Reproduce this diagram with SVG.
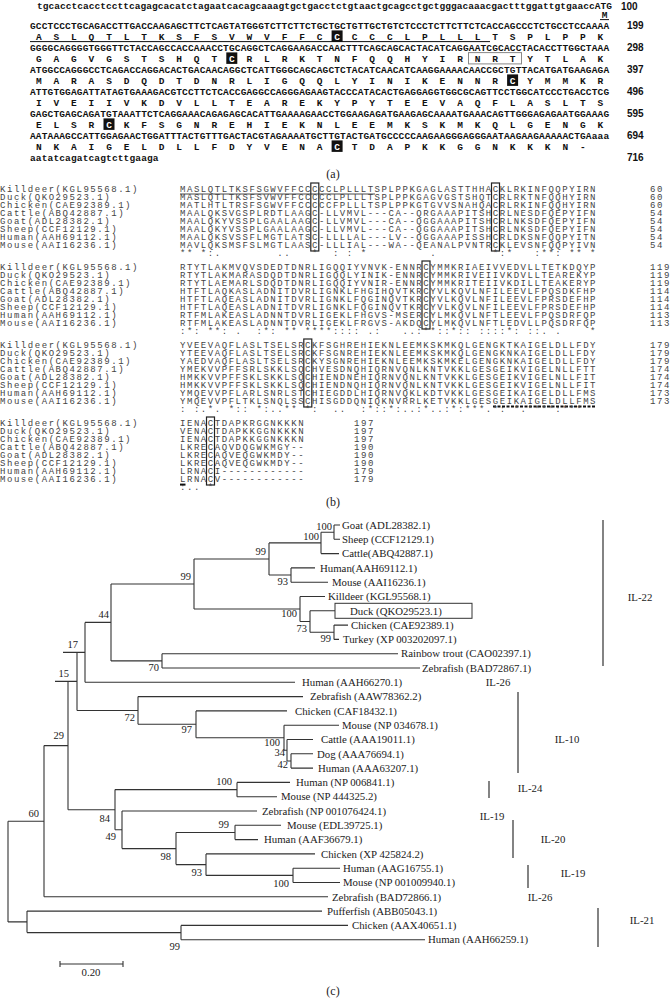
<svg xmlns="http://www.w3.org/2000/svg" width="670" height="998" viewBox="0 0 670 998">
<style>
.nt{font-family:"Liberation Mono",monospace;font-weight:bold;font-size:9.5px;letter-spacing:0.15px;fill:#111}
.aa{font-family:"Liberation Mono",monospace;font-weight:bold;font-size:9.5px;fill:#111;text-anchor:middle}
.w{fill:#fff}
.blk{fill:#111}
.num{font-family:"Liberation Sans",Arial,sans-serif;font-weight:bold;font-size:10px;fill:#111}
.al{font-family:"Liberation Mono",monospace;font-size:9px;letter-spacing:1.55px;fill:#444}
.box{fill:none;stroke:#222;stroke-width:1.2}
.lab{font-family:"Liberation Serif","Times New Roman",serif;font-size:10.8px;fill:#222}
.bs{font-family:"Liberation Serif","Times New Roman",serif;font-size:10.5px;fill:#222;text-anchor:end}
.grp{font-family:"Liberation Serif","Times New Roman",serif;font-size:10.8px;fill:#222;text-anchor:middle}
.cap{font-family:"Liberation Serif","Times New Roman",serif;font-size:12px;fill:#222;text-anchor:middle}
.edge{fill:none;stroke:#333;stroke-width:1.1}
.bar{fill:none;stroke:#333;stroke-width:1.2}
</style>

<!-- (a) nucleotide / amino-acid sequence -->
<g id="panel-a">
<rect class="blk" x="331.6" y="30.4" width="11" height="11.5"/>
<rect class="blk" x="226.3" y="52.4" width="11" height="11.5"/>
<rect class="blk" x="507.1" y="74.4" width="11" height="11.5"/>
<rect class="blk" x="103.5" y="118.4" width="11" height="11.5"/>
<rect class="blk" x="331.6" y="140.4" width="11" height="11.5"/>
<rect x="468.5" y="52.6" width="53" height="11.3" fill="none" stroke="#888" stroke-width="1"/>
<line x1="30" y1="41.6" x2="490" y2="41.6" stroke="#111" stroke-width="1"/>
<line x1="600" y1="19.6" x2="609" y2="19.6" stroke="#111" stroke-width="1"/>
<text class="nt" x="37" y="8.5" textLength="575" lengthAdjust="spacing">tgcacctcacctccttcagagcacatctagaatcacagcaaagtgctgacctctgtaactgcagcctgctgggacaaacgactttggattgtgaaccATG</text>
<text class="aa" x="604.5" y="18">M</text>
<text class="nt" x="30" y="28.5">GCCTCCCTGCAGACCTTGACCAAGAGCTTCTCAGTATGGGTCTTCTTCTGCTGCTGTTGCTGTCTCCCTCTTCTTCTCACCAGCCCTCTGCCTCCAAAA</text>
<text class="aa" y="39.5" x="38.8 56.3 73.9 91.4 109 126.5 144.1 161.6 179.2 196.7 214.3 231.8 249.4 266.9 284.5 302 319.6 337.1 354.7 372.2 389.8 407.3 424.9 442.4 460 477.5 495.1 512.6 530.2 547.7 565.3 582.8 600.4">ASLQTLTKSFSVWVFFC<tspan class="w">C</tspan>CCCLPLLLTSPLPPK</text>
<text class="nt" x="30" y="50.5">GGGGCAGGGGTGGGTTCTACCAGCCACCAAACCTGCAGGCTCAGGAAGACCAACTTTCAGCAGCACTACATCAGGAATCGCACCTACACCTTGGCTAAA</text>
<text class="aa" y="61.5" x="38.8 56.3 73.9 91.4 109 126.5 144.1 161.6 179.2 196.7 214.3 231.8 249.4 266.9 284.5 302 319.6 337.1 354.7 372.2 389.8 407.3 424.9 442.4 460 477.5 495.1 512.6 530.2 547.7 565.3 582.8 600.4">GAGVGSTSHQT<tspan class="w">C</tspan>RLRKTNFQQHYIRNRTYTLAK</text>
<text class="nt" x="30" y="72.5">ATGGCCAGGGCCTCAGACCAGGACACTGACAACAGGCTCATTGGGCAGCAGCTCTACATCAACATCAAGGAAAACAACCGCTGTTACATGATGAAGAGA</text>
<text class="aa" y="83.5" x="38.8 56.3 73.9 91.4 109 126.5 144.1 161.6 179.2 196.7 214.3 231.8 249.4 266.9 284.5 302 319.6 337.1 354.7 372.2 389.8 407.3 424.9 442.4 460 477.5 495.1 512.6 530.2 547.7 565.3 582.8 600.4">MARASDQDTDNRLIGQQLYINIKENNR<tspan class="w">C</tspan>YMMKR</text>
<text class="nt" x="30" y="94.5">ATTGTGGAGATTATAGTGAAAGACGTCCTTCTCACCGAGGCCAGGGAGAAGTACCCATACACTGAGGAGGTGGCGCAGTTCCTGGCATCCCTGACCTCG</text>
<text class="aa" y="105.5" x="38.8 56.3 73.9 91.4 109 126.5 144.1 161.6 179.2 196.7 214.3 231.8 249.4 266.9 284.5 302 319.6 337.1 354.7 372.2 389.8 407.3 424.9 442.4 460 477.5 495.1 512.6 530.2 547.7 565.3 582.8 600.4">IVEIIVKDVLLTEAREKYPYTEEVAQFLASLTS</text>
<text class="nt" x="30" y="116.5">GAGCTGAGCAGATGTAAATTCTCAGGAAACAGAGAGCACATTGAAAAGAACCTGGAAGAGATGAAGAGCAAAATGAAACAGTTGGGAGAGAATGGAAAG</text>
<text class="aa" y="127.5" x="38.8 56.3 73.9 91.4 109 126.5 144.1 161.6 179.2 196.7 214.3 231.8 249.4 266.9 284.5 302 319.6 337.1 354.7 372.2 389.8 407.3 424.9 442.4 460 477.5 495.1 512.6 530.2 547.7 565.3 582.8 600.4">ELSR<tspan class="w">C</tspan>KFSGNREHIEKNLEEMKSKMKQLGENGK</text>
<text class="nt" x="30" y="138.5">AATAAAGCCATTGGAGAACTGGATTTACTGTTTGACTACGTAGAAAATGCTTGTACTGATGCCCCCAAGAAGGGAGGGAATAAGAAGAAAAACTGAaaa</text>
<text class="aa" y="149.5" x="38.8 56.3 73.9 91.4 109 126.5 144.1 161.6 179.2 196.7 214.3 231.8 249.4 266.9 284.5 302 319.6 337.1 354.7 372.2 389.8 407.3 424.9 442.4 460 477.5 495.1 512.6 530.2 547.7 565.3 582.8">NKAIGELDLLFDYVENA<tspan class="w">C</tspan>TDAPKKGGNKKKN-</text>
<text class="nt" x="30" y="160.5">aatatcagatcagtcttgaaga</text>
<text class="num" x="621" y="9.5">100</text>
<text class="num" x="627" y="28.5">199</text>
<text class="num" x="627" y="50.5">298</text>
<text class="num" x="627" y="72.5">397</text>
<text class="num" x="627" y="94.5">496</text>
<text class="num" x="627" y="116.5">595</text>
<text class="num" x="627" y="138.5">694</text>
<text class="num" x="627" y="160.5">716</text>
<text class="cap" x="333" y="178">(a)</text>
</g>

<!-- (b) multiple alignment -->
<g id="panel-b">
<rect class="box" x="310.8" y="183" width="8" height="68"/>
<rect class="box" x="491.5" y="183" width="8" height="68"/>
<rect class="box" x="422" y="261" width="8" height="68"/>
<rect class="box" x="303.8" y="339" width="8" height="68"/>
<rect class="box" x="206.5" y="417" width="8" height="68"/>
<line x1="180" y1="194" x2="375" y2="194" stroke="#333" stroke-width="0.9"/>
<line x1="493" y1="406.5" x2="596" y2="406.5" stroke="#111" stroke-width="2" stroke-dasharray="3 1.5"/>
<rect x="180" y="483.6" width="5.5" height="2" fill="#111"/>

<text class="al" x="0" y="192.2">Killdeer(KGL95568.1)</text><text class="al" x="180" y="192.2">MASLQTLTKSFSGWVFFCCCCCLPLLLTSPLPPKGAGLASTTHHACKLRKINFQQPYIRN</text><text class="al" x="650" y="192.2">60</text>
<text class="al" x="0" y="200.2">Duck(QKO29523.1)</text><text class="al" x="180" y="200.2">MASLQTLTKSFSVWVFFCCCCCLPLLLTSPLPPKGAGVGSTSHQTCRLRKTNFQQHYIRN</text><text class="al" x="650" y="200.2">60</text>
<text class="al" x="0" y="208.2">Chicken(CAE92389.1)</text><text class="al" x="180" y="208.2">MATLHTLTRSFSGWVFFCCCCCFPLLLTSPLPPKGTGVVSNAHQACRLRKINFQQHYIRN</text><text class="al" x="650" y="208.2">60</text>
<text class="al" x="0" y="216.2">Cattle(ABQ42887.1)</text><text class="al" x="180" y="216.2">MAALQKSVGSPLRDTLAAGC-LLVMVL---CA--QRGAAAPITSHCRLNESDFQEPYIFN</text><text class="al" x="650" y="216.2">54</text>
<text class="al" x="0" y="224.2">Goat(ADL28382.1)</text><text class="al" x="180" y="224.2">MAALQKYVSSPLGAALAAGC-LLVMVL---CA--QGGAAAPITSHCRLNKSDFQEPYIFN</text><text class="al" x="650" y="224.2">54</text>
<text class="al" x="0" y="232.2">Sheep(CCF12129.1)</text><text class="al" x="180" y="232.2">MAALQKYVSSPLGAALAAGC-LLVMVL---CA--QGGAAAPITSHCRLNKSDFQEPYIFN</text><text class="al" x="650" y="232.2">54</text>
<text class="al" x="0" y="240.2">Human(AAH69112.1)</text><text class="al" x="180" y="240.2">MAALQKSVSSFLMGTLATSC-LLLLAL---LV--QGGAAAPISSHCRLDKSNFQQPYITN</text><text class="al" x="650" y="240.2">54</text>
<text class="al" x="0" y="248.2">Mouse(AAI16236.1)</text><text class="al" x="180" y="248.2">MAVLQKSMSFSLMGTLAASC-LLLIAL---WA--QEANALPVNTRCKLEVSNFQQPYIVN</text><text class="al" x="650" y="248.2">54</text>
<text class="al" x="180" y="256.2" xml:space="preserve">** *:.        ..   *  : : *         .        *:*   :**: ** *</text>

<text class="al" x="0" y="270.2">Killdeer(KGL95568.1)</text><text class="al" x="180" y="270.2">RTYTLAKMVQVSDEDTDNRLIGQQIYVNVK-ENNRCYMMKRIAEIVVEDVLLTETKDQYP</text><text class="al" x="650" y="270.2">119</text>
<text class="al" x="0" y="278.2">Duck(QKO29523.1)</text><text class="al" x="180" y="278.2">RTYTLAKMARASDQDTDNRLIGQQLYINIK-ENNRCYMMKRIVEIIVKDVLLTEAREKYP</text><text class="al" x="650" y="278.2">119</text>
<text class="al" x="0" y="286.2">Chicken(CAE92389.1)</text><text class="al" x="180" y="286.2">RTYTLAEMARLSDQDTDNRLIGQQIYVNIR-ENNRCYMMKRITEIIVKDILLTEAKERYP</text><text class="al" x="650" y="286.2">119</text>
<text class="al" x="0" y="294.2">Cattle(ABQ42887.1)</text><text class="al" x="180" y="294.2">HTFTLAQKASLADNITDVRLIGNKLFHGIHQVTKRCYVLKQVLNFILEEVLFPQSDKFHP</text><text class="al" x="650" y="294.2">114</text>
<text class="al" x="0" y="302.2">Goat(ADL28382.1)</text><text class="al" x="180" y="302.2">HTFTLAQEASLADNITDVRLIGNKLFQGINQVTKRCYVLKQVLNFILEEVLFPRSDEFHP</text><text class="al" x="650" y="302.2">114</text>
<text class="al" x="0" y="310.2">Sheep(CCF12129.1)</text><text class="al" x="180" y="310.2">HTFTLAQEASLADNITDVRLIGNKLFQGINQVTKRCYVLKQVLNFILEEVLFPRSDEFHP</text><text class="al" x="650" y="310.2">114</text>
<text class="al" x="0" y="318.2">Human(AAH69112.1)</text><text class="al" x="180" y="318.2">RTFMLAKEASLADNNTDVRLIGEKLFHGVS-MSERCYLMKQVLNFTLEEVLFPQSDRFQP</text><text class="al" x="650" y="318.2">113</text>
<text class="al" x="0" y="326.2">Mouse(AAI16236.1)</text><text class="al" x="180" y="326.2">RTFMLAKEASLADNNTDVRLIGEKLFRGVS-AKDQCYLMKQVLNFTLEDVLLPQSDRFQP</text><text class="al" x="650" y="326.2">113</text>
<text class="al" x="180" y="334.2" xml:space="preserve">:*: **: .  :*: ** ****:::: .:   ..:**::*:: ::::*: ::. .    *</text>

<text class="al" x="0" y="348.2">Killdeer(KGL95568.1)</text><text class="al" x="180" y="348.2">YVEEVAQFLASLTSELSRCKFSGHREHIEKNLEEMKSKMKQLGENGKTKAIGELDLLFDY</text><text class="al" x="650" y="348.2">179</text>
<text class="al" x="0" y="356.2">Duck(QKO29523.1)</text><text class="al" x="180" y="356.2">YTEEVAQFLASLTSELSRCKFSGNREHIEKNLEEMKSKMKQLGENGKNKAIGELDLLFDY</text><text class="al" x="650" y="356.2">179</text>
<text class="al" x="0" y="364.2">Chicken(CAE92389.1)</text><text class="al" x="180" y="364.2">YAEDVAQFLASLTSELSRCKYSGNREHIEKNLEEMKSKMKELGENGKNKAIGELDLLFDY</text><text class="al" x="650" y="364.2">179</text>
<text class="al" x="0" y="372.2">Cattle(ABQ42887.1)</text><text class="al" x="180" y="372.2">YMEKVVPFFSRLSKKLSQCHVESDNQHIQRNVQNLKNTVKKLGESGEIKVIGELNLLFTT</text><text class="al" x="650" y="372.2">174</text>
<text class="al" x="0" y="380.2">Goat(ADL28382.1)</text><text class="al" x="180" y="380.2">HMKKVVPFFSKLSKKLSQCHIENDNEHIQRNVQNLKNTVKKLGESGEIKVIGELNLLFIT</text><text class="al" x="650" y="380.2">174</text>
<text class="al" x="0" y="388.2">Sheep(CCF12129.1)</text><text class="al" x="180" y="388.2">HMKKVVPFFSKLSKKLSQCHIENDNQHIQRNVQNLKNTVKKLGESGEIKVIGELNLLFIT</text><text class="al" x="650" y="388.2">174</text>
<text class="al" x="0" y="396.2">Human(AAH69112.1)</text><text class="al" x="180" y="396.2">YMQEVVPFLARLSNRLSTCHIEGDDLHIQRNVQKLKDTVKKLGESGEIKAIGELDLLFMS</text><text class="al" x="650" y="396.2">173</text>
<text class="al" x="0" y="404.2">Mouse(AAI16236.1)</text><text class="al" x="180" y="404.2">YMQEVVPFLTKLSNQLSSCHISGDDQNIQKNVRRLKETVKKLGESGEIKAIGELDLLFMS</text><text class="al" x="650" y="404.2">173</text>
<text class="al" x="180" y="412.2" xml:space="preserve">: :.*. *:: *:..** *:  ..  :*::*:..:*..:*:***.*: *.****:***</text>

<text class="al" x="0" y="426.2">Killdeer(KGL95568.1)</text><text class="al" x="180" y="426.2">IENACTDAPKRGGNKKKN</text><text class="al" x="354" y="426.2">197</text>
<text class="al" x="0" y="434.2">Duck(QKO29523.1)</text><text class="al" x="180" y="434.2">VENACTDAPKKGGNKKKN</text><text class="al" x="354" y="434.2">197</text>
<text class="al" x="0" y="442.2">Chicken(CAE92389.1)</text><text class="al" x="180" y="442.2">IENACTDAPKKGGNKKKN</text><text class="al" x="354" y="442.2">197</text>
<text class="al" x="0" y="450.2">Cattle(ABQ42887.1)</text><text class="al" x="180" y="450.2">LKRECAQVDQGWKMGY--</text><text class="al" x="354" y="450.2">190</text>
<text class="al" x="0" y="458.2">Goat(ADL28382.1)</text><text class="al" x="180" y="458.2">LKRECAQVEQGWKMDY--</text><text class="al" x="354" y="458.2">190</text>
<text class="al" x="0" y="466.2">Sheep(CCF12129.1)</text><text class="al" x="180" y="466.2">LKRECAQVEQGWKMDY--</text><text class="al" x="354" y="466.2">190</text>
<text class="al" x="0" y="474.2">Human(AAH69112.1)</text><text class="al" x="180" y="474.2">LRNACI------------</text><text class="al" x="354" y="474.2">179</text>
<text class="al" x="0" y="482.2">Mouse(AAI16236.1)</text><text class="al" x="180" y="482.2">LRNACV------------</text><text class="al" x="354" y="482.2">179</text>
<text class="al" x="180" y="490.2" xml:space="preserve">:.. *</text>
<text class="cap" x="333" y="506">(b)</text>
</g>

<!-- (c) phylogenetic tree -->
<g id="connectors">
<path class="edge" d="M334,525V539.3M321,532.2V553.6M291,567.9V582.2M269,542.9V575M334,625.1V639.4M310,610.8V632.2M300,596.5V621.5M194,559V609M162,653.7V668M111,584V660.9M85,622.4V682.3M291,753.8V768.1M287,739.5V761M284,725.2V750.2M196,710.9V737.7M138,696.6V724.3M77,652.4V710.5M237,782.4V796.7M235,825.3V839.6M293,868.2V882.5M206,853.9V875.4M176,832.5V864.6M122,811V848.6M115,789.6V829.8M68,681.4V809.7M44,745.6V896.8M181,925.4V939.7M27,911.1V932.6M8,821.2V921.9"/>
<path class="edge" d="M321,532.2H334M269,542.9H321M269,575H291M300,621.5H310M310,632.2H334M194,559H269M194,609H300M111,584H194M111,660.9H162M85,622.4H111M63,652.4H85M287,761H291M284,750.2H287M196,737.7H284M138,724.3H196M77,710.5H138M55,681.4H77M115,789.6H237M115,829.8H122M122,848.6H176M176,832.5H235M176,864.6H206M206,875.4H293M68,809.7H115M44,745.6H68M8,821.2H44M8,921.9H27M27,932.6H181"/>
<path class="edge" d="M334,525H340M334,539.3H340M321,553.6H339M291,567.9H315M291,582.2H328M300,596.5H325M310,610.8H335M334,625.1H348M334,639.4H339M162,653.7H398M162,668H420M85,682.3H295M138,696.6H303M196,710.9H287M284,725.2H339M287,739.5H313M291,753.8H313M291,768.1H313M237,782.4H290M237,796.7H277M122,811H257M235,825.3H281M235,839.6H258M206,853.9H315M293,868.2H340M293,882.5H340M44,896.8H328M27,911.1H322M181,925.4H348M181,939.7H425"/>
</g>

<g id="leaf-goat"><text class="lab" x="342" y="528.7">Goat (ADL28382.1)</text></g>
<g id="leaf-sheep"><text class="lab" x="342" y="543">Sheep (CCF12129.1)</text></g>
<g id="leaf-cattle-abq"><text class="lab" x="342" y="557.3">Cattle(ABQ42887.1)</text></g>
<g id="leaf-human-aah69112"><text class="lab" x="320" y="571.6">Human(AAH69112.1)</text></g>
<g id="leaf-mouse-aai"><text class="lab" x="332" y="585.9">Mouse (AAI16236.1)</text></g>
<g id="leaf-killdeer"><text class="lab" x="328" y="600.2">Killdeer (KGL95568.1)</text></g>
<g id="leaf-duck"><rect x="335" y="603.3" width="137" height="15" fill="none" stroke="#333" stroke-width="1"/><text class="lab" x="350" y="614.5">Duck (QKO29523.1)</text></g>
<g id="leaf-chicken-cae"><text class="lab" x="351" y="628.8">Chicken (CAE92389.1)</text></g>
<g id="leaf-turkey"><text class="lab" x="343" y="643.1">Turkey (XP 003202097.1)</text></g>
<g id="leaf-trout"><text class="lab" x="401" y="657.4">Rainbow trout (CAO02397.1)</text></g>
<g id="leaf-zebrafish-bad72867"><text class="lab" x="422" y="671.7">Zebrafish (BAD72867.1)</text></g>
<g id="leaf-human-aah66270"><text class="lab" x="302" y="686">Human (AAH66270.1)</text></g>
<g id="leaf-zebrafish-aaw"><text class="lab" x="310" y="700.3">Zebrafish (AAW78362.2)</text></g>
<g id="leaf-chicken-caf"><text class="lab" x="295" y="714.6">Chicken (CAF18432.1)</text></g>
<g id="leaf-mouse-np034678"><text class="lab" x="342" y="728.9">Mouse (NP 034678.1)</text></g>
<g id="leaf-cattle-aaa"><text class="lab" x="321" y="743.2">Cattle (AAA19011.1)</text></g>
<g id="leaf-dog"><text class="lab" x="317" y="757.5">Dog (AAA76694.1)</text></g>
<g id="leaf-human-aaa63207"><text class="lab" x="318" y="771.8">Human (AAA63207.1)</text></g>
<g id="leaf-human-np006841"><text class="lab" x="296" y="786.1">Human (NP 006841.1)</text></g>
<g id="leaf-mouse-np444325"><text class="lab" x="281" y="800.4">Mouse (NP 444325.2)</text></g>
<g id="leaf-zebrafish-np"><text class="lab" x="262" y="814.7">Zebrafish (NP 001076424.1)</text></g>
<g id="leaf-mouse-edl"><text class="lab" x="287" y="829">Mouse (EDL39725.1)</text></g>
<g id="leaf-human-aaf"><text class="lab" x="264" y="843.3">Human (AAF36679.1)</text></g>
<g id="leaf-chicken-xp"><text class="lab" x="321" y="857.6">Chicken (XP 425824.2)</text></g>
<g id="leaf-human-aag"><text class="lab" x="343" y="871.9">Human (AAG16755.1)</text></g>
<g id="leaf-mouse-np001009940"><text class="lab" x="343" y="886.2">Mouse (NP 001009940.1)</text></g>
<g id="leaf-zebrafish-bad72866"><text class="lab" x="332" y="900.5">Zebrafish (BAD72866.1)</text></g>
<g id="leaf-pufferfish"><text class="lab" x="327" y="914.8">Pufferfish (ABB05043.1)</text></g>
<g id="leaf-chicken-aax"><text class="lab" x="352" y="929.1">Chicken (AAX40651.1)</text></g>
<g id="leaf-human-aah66259"><text class="lab" x="428" y="943.4">Human (AAH66259.1)</text></g>

<g id="bootstrap">
<text class="bs" x="332" y="529.5">100</text>
<text class="bs" x="319" y="540">100</text>
<text class="bs" x="266" y="555">99</text>
<text class="bs" x="288" y="585">93</text>
<text class="bs" x="191" y="580">99</text>
<text class="bs" x="297" y="617">100</text>
<text class="bs" x="307" y="632">73</text>
<text class="bs" x="331" y="642">99</text>
<text class="bs" x="109" y="618">44</text>
<text class="bs" x="159" y="671">70</text>
<text class="bs" x="78" y="648">17</text>
<text class="bs" x="69" y="677">15</text>
<text class="bs" x="135" y="721">72</text>
<text class="bs" x="192" y="733">97</text>
<text class="bs" x="280" y="746">100</text>
<text class="bs" x="285" y="756">34</text>
<text class="bs" x="288" y="768">42</text>
<text class="bs" x="64" y="739">29</text>
<text class="bs" x="39" y="817">60</text>
<text class="bs" x="232" y="785">100</text>
<text class="bs" x="110" y="822">84</text>
<text class="bs" x="116" y="840">49</text>
<text class="bs" x="229" y="828">99</text>
<text class="bs" x="171" y="860">98</text>
<text class="bs" x="202" y="876">93</text>
<text class="bs" x="289" y="887">100</text>
<text class="bs" x="180" y="950">99</text>
</g>

<g id="groups">
<path class="bar" d="M603,520V666M518,692V773M489,781V798M513,820V858M528,865V888M598,908V947"/>
<text class="grp" x="640" y="601">IL-22</text>
<text class="grp" x="498" y="686">IL-26</text>
<text class="grp" x="567" y="743">IL-10</text>
<text class="grp" x="530" y="792">IL-24</text>
<text class="grp" x="492" y="820">IL-19</text>
<text class="grp" x="553" y="843">IL-20</text>
<text class="grp" x="573" y="877">IL-19</text>
<text class="grp" x="540" y="900.5">IL-26</text>
<text class="grp" x="642" y="924">IL-21</text>
</g>

<g id="scale">
<path class="edge" d="M60,964H123M60,961V967M123,961V967"/>
<text class="grp" x="91" y="976">0.20</text>
</g>
<text class="cap" x="333" y="995">(c)</text>
</svg>
